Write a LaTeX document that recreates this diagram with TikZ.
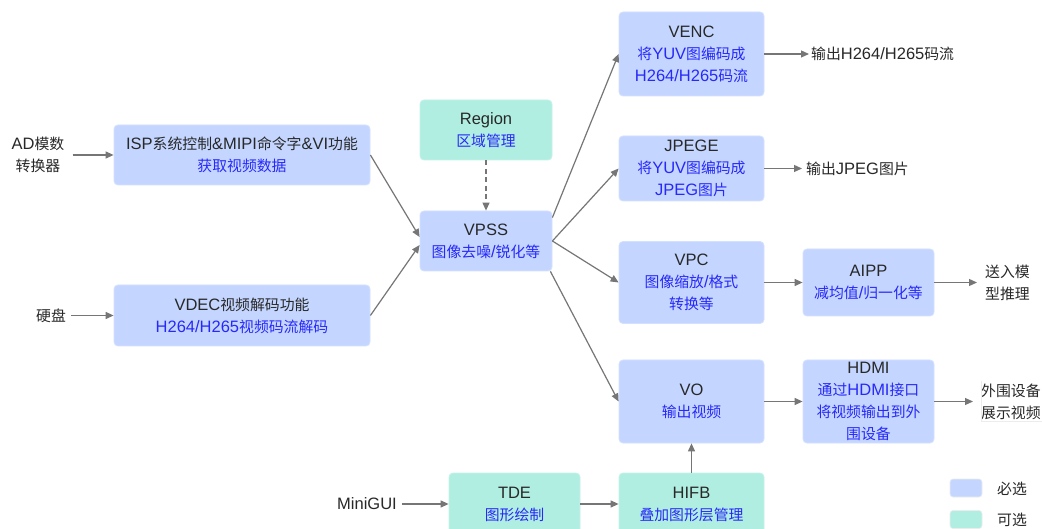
\documentclass[tikz,border=0pt]{standalone}
\usepackage{fontspec}
\usetikzlibrary{arrows.meta,calc}
\setmainfont{Liberation Sans}
\newfontfamily\latfont{Liberation Sans}
\newfontfamily\cjkfont{Noto Sans CJK SC}[Scale=0.9]
% switch automatically between Latin and CJK fonts
\XeTeXinterchartokenstate=1
\newXeTeXintercharclass\cjkcls
\newcount\cjkc
\cjkc="4E00
\loop\ifnum\cjkc<"A000 \XeTeXcharclass\cjkc=\cjkcls\advance\cjkc by 1 \repeat
\XeTeXinterchartoks 0 \cjkcls = {\cjkfont}
\XeTeXinterchartoks 4095 \cjkcls = {\cjkfont}
\XeTeXinterchartoks \cjkcls 0 = {\latfont}
\XeTeXinterchartoks \cjkcls 4095 = {\latfont}

\definecolor{boxblue}{RGB}{196,214,255}
\definecolor{boxgreen}{RGB}{176,238,226}
\definecolor{txtblue}{RGB}{40,40,250}
\definecolor{txtdark}{RGB}{40,40,40}
\definecolor{linegray}{RGB}{118,118,118}

\tikzset{
  base/.style={font=\fontsize{16.5}{22}\selectfont, text=txtdark, align=center},
  box/.style={base, rectangle, rounded corners=4pt, inner sep=0pt, line width=0.8pt},
  must/.style={box, fill=boxblue, draw=boxblue!75!white},
  opt/.style={box, fill=boxgreen, draw=boxgreen!75!white},
  lbl/.style={base, inner ysep=2pt},
  conn/.style={draw=linegray, line width=1.2pt, -{Triangle[length=8pt,width=7pt]}},
  swatch/.style={rectangle, rounded corners=3pt, minimum width=32pt, minimum height=18pt, inner sep=0pt, draw=white!85!gray, line width=0.6pt},
}

\begin{document}
\begin{tikzpicture}[x=1pt,y=-1pt]
\clip (0,0) rectangle (1042,529);
\fill[white] (0,0) rectangle (1042,529);

% processing blocks
\node[must, minimum width=256pt, minimum height=60pt] (isp) at (242,155)
  {ISP系统控制\&MIPI命令字\&VI功能\\\color{txtblue}获取视频数据};
\node[must, minimum width=256pt, minimum height=61pt] (vdec) at (242,315.5)
  {VDEC视频解码功能\\\color{txtblue}H264/H265视频码流解码};
\node[opt, minimum width=132pt, minimum height=60pt] (region) at (486,130)
  {Region\\\color{txtblue}区域管理};
\node[must, minimum width=132pt, minimum height=60pt] (vpss) at (486,241)
  {VPSS\\\color{txtblue}图像去噪/锐化等};
\node[must, minimum width=145pt, minimum height=84pt] (venc) at (691.5,54)
  {VENC\\\color{txtblue}将YUV图编码成\\\color{txtblue}H264/H265码流};
\node[must, minimum width=145pt, minimum height=65pt] (jpege) at (691.5,168.5)
  {JPEGE\\\color{txtblue}将YUV图编码成\\\color{txtblue}JPEG图片};
\node[must, minimum width=145pt, minimum height=82pt] (vpc) at (691.5,282.5)
  {VPC\\\color{txtblue}图像缩放/格式\\\color{txtblue}转换等};
\node[must, minimum width=131pt, minimum height=67pt] (aipp) at (868.5,282.5)
  {AIPP\\\color{txtblue}减均值/归一化等};
\node[must, minimum width=145pt, minimum height=83pt] (vo) at (691.5,401.5)
  {VO\\\color{txtblue}输出视频};
\node[must, minimum width=131pt, minimum height=83pt] (hdmi) at (868.5,401.5)
  {HDMI\\\color{txtblue}通过HDMI接口\\\color{txtblue}将视频输出到外\\\color{txtblue}围设备};
\node[opt, minimum width=131pt, minimum height=62pt] (tde) at (514.5,504)
  {TDE\\\color{txtblue}图形绘制};
\node[opt, minimum width=145pt, minimum height=62pt] (hifb) at (691.5,504)
  {HIFB\\\color{txtblue}叠加图形层管理};

% sources and outputs
\node[lbl, inner xsep=8pt] (ad) at (38,155) {AD模数\\转换器};
\node[lbl, inner xsep=5pt] (disk) at (51,315.5) {硬盘};
\node[lbl, inner xsep=5pt, anchor=east] (minigui) at (402,504) {MiniGUI};
\node[lbl, inner xsep=2pt, anchor=west] (out1) at (809,54) {输出H264/H265码流};
\node[lbl, inner xsep=4pt, anchor=west] (out2) at (802,168.5) {输出JPEG图片};
\node[lbl, inner xsep=8pt, anchor=west] (out3) at (977,282.5) {送入模\\型推理};
\node[lbl, inner xsep=8pt, anchor=west] (out4) at (973,401.5) {外围设备\\展示视频};
\draw[white!85!gray, line width=0.6pt]
  ($(out4.north west)+(8,0)$) -- ($(out4.south west)+(8,0)$) -- ($(out4.south east)+(8,0)$);

% connectors
\draw[conn] (ad.east) -- (isp.west);
\draw[conn] (disk.east) -- (vdec.west);
\draw[conn] (isp.east) -- ($(vpss.west)+(0,-4)$);
\draw[conn] (vdec.east) -- ($(vpss.west)+(0,4)$);
\draw[conn, dash pattern=on 5pt off 3.5pt] (region.south) -- (vpss.north);
\draw[conn] ($(vpss.north east)+(0,7)$) -- (venc.west);
\draw[conn] (vpss.east) -- (jpege.west);
\draw[conn] (vpss.east) -- (vpc.west);
\draw[conn] ($(vpss.south east)+(-2,0)$) -- (vo.west);
\draw[conn] (venc.east) -- (out1.west);
\draw[conn] (jpege.east) -- (out2.west);
\draw[conn] (vpc.east) -- (aipp.west);
\draw[conn] (aipp.east) -- (out3.west);
\draw[conn] (vo.east) -- (hdmi.west);
\draw[conn] (hdmi.east) -- (out4.west);
\draw[conn] (minigui.east) -- (tde.west);
\draw[conn] (tde.east) -- (hifb.west);
\draw[conn] (hifb.north) -- (vo.south);

% legend
\node[swatch, fill=boxblue] (legmust) at (966,488) {};
\node[swatch, fill=boxgreen] (legopt) at (966,519.5) {};
\node[lbl, anchor=west, inner xsep=0pt] (legmusttxt) at (997,489) {必选};
\node[lbl, anchor=west, inner xsep=0pt] (legopttxt) at (997,519.5) {可选};
\end{tikzpicture}
\end{document}
